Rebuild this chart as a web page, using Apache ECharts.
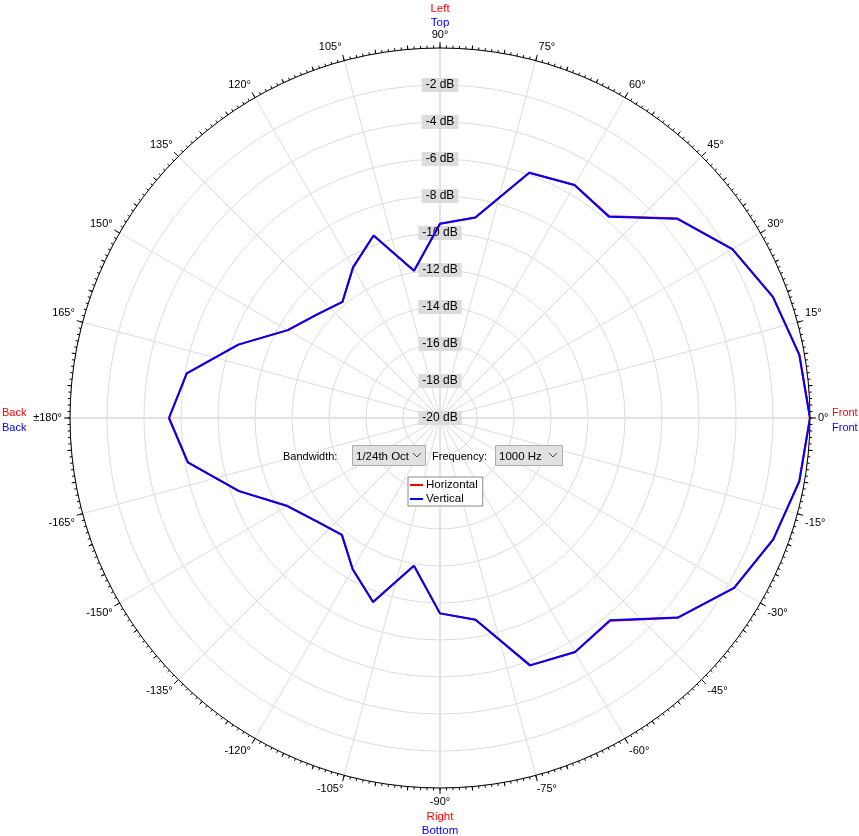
<!DOCTYPE html>
<html>
<head>
<meta charset="utf-8">
<script src="https://cdn.jsdelivr.net/npm/echarts@6/dist/echarts.min.js"></script>
<style>html,body{margin:0;padding:0;background:#fff;}#c{width:859px;height:836px;}</style>
</head>
<body>
<div id="c"></div>
<script>
// Angles (degrees) of the measured points
const angles = [-180,-170,-160,-150,-140,-130,-120,-110,-100,-90,-80,-70,-60,-50,-40,-30,-20,-10,0,10,20,30,40,50,60,70,80,90,100,110,120,130,140,150,160,170,180];
// Vertical response (dB)
const verticalDb = [-5.35,-6.16,-8.44,-10.48,-11.3,-11.75,-10.56,-9.42,-11.89,-9.44,-8.93,-5.77,-5.39,-5.72,-3.22,-1.64,-0.83,-0.28,0,-0.28,-0.85,-1.75,-3.25,-5.8,-5.46,-5.89,-9.0,-9.5,-11.92,-9.5,-10.6,-11.8,-11.3,-10.5,-8.4,-6.1,-5.35];
// Horizontal response (dB)
const horizontalDb = [-5.35,-6.16,-8.44,-10.48,-11.3,-11.75,-10.56,-9.42,-11.89,-9.44,-8.93,-5.77,-5.39,-5.69,-3.21,-1.64,-0.83,-0.28,0,-0.28,-0.85,-1.75,-3.23,-5.77,-5.46,-5.89,-9.0,-9.5,-11.92,-9.5,-10.6,-11.8,-11.3,-10.5,-8.4,-6.1,-5.35];
const seriesNames = ['Horizontal','Vertical'];
const rMin = -20, rMax = 0, rStep = 2;

const FONT = 'Liberation Sans';
const chart = echarts.init(document.getElementById('c'));
const CENTER = [440, 418];
const RADIUS = 370;

function angleLabel(v){
  if (v === 180) return '';
  if (v === -180) return '{c|±180°}';
  const t = v + '°';
  if (v === 75 || v === -75) return '{r|' + t + '}';
  if (v === 105 || v === -105) return '{l|' + t + '}';
  if (v === 15 || v === 165) return '{u|' + t + '}';
  if (v === -15 || v === -165) return '{d|' + t + '}';
  return '{c|' + t + '}';
}
const lblBase = {fontSize: 11, fontFamily: FONT, color: '#000'};

const option = {
  animation: false,
  textStyle: {fontFamily: FONT},
  polar: [
    {center: CENTER, radius: RADIUS},
    {center: CENTER, radius: RADIUS},
    {center: CENTER, radius: RADIUS}
  ],
  angleAxis: [
    {
      polarIndex: 0, type: 'value', min: -180, max: 180, interval: 15,
      startAngle: 180, clockwise: false,
      axisLine: {show: true, lineStyle: {color: '#000', width: 1}},
      axisTick: {show: true, inside: false, length: 6, lineStyle: {color: '#000'}},
      minorTick: {show: true, splitNumber: 3, length: 4, lineStyle: {color: '#000'}},
      splitLine: {show: true, lineStyle: {color: '#dcdcdc', width: 1}},
      axisLabel: {
        show: true, margin: 8, color: '#000', fontSize: 11, fontFamily: FONT, formatter: angleLabel,
        rich: {
          c: Object.assign({}, lblBase),
          r: Object.assign({padding: [0, 0, 0, 18]}, lblBase),
          l: Object.assign({padding: [0, 24, 0, 0]}, lblBase),
          u: Object.assign({padding: [0, 0, 14, 0]}, lblBase),
          d: Object.assign({padding: [14, 0, 0, 0]}, lblBase)
        }
      }
    },
    {
      polarIndex: 1, type: 'value', min: -180, max: 180, interval: 15,
      startAngle: 180, clockwise: false,
      axisLine: {show: false},
      axisTick: {show: true, inside: false, length: 2.5, lineStyle: {color: '#000'}},
      minorTick: {show: true, splitNumber: 15, length: 2.5, lineStyle: {color: '#000'}},
      splitLine: {show: false},
      axisLabel: {show: false}
    },
    {
      polarIndex: 2, type: 'value', min: 0, max: 360, interval: 90,
      startAngle: 90, clockwise: false,
      axisLine: {show: false}, axisTick: {show: false}, axisLabel: {show: false},
      splitLine: {show: true, lineStyle: {color: '#e2e2e2', width: 2}}
    }
  ],
  radiusAxis: [
    {
      polarIndex: 0, type: 'value', min: rMin, max: rMax, interval: rStep,
      axisLine: {show: false}, axisTick: {show: false}, axisLabel: {show: false},
      splitLine: {show: true, lineStyle: {color: '#dcdcdc', width: 1}}
    },
    {
      polarIndex: 1, type: 'value', min: rMin, max: rMax, interval: rStep,
      axisLine: {show: false}, axisTick: {show: false}, axisLabel: {show: false}, splitLine: {show: false}
    },
    {
      polarIndex: 2, type: 'value', min: rMin, max: rMax, interval: rStep,
      axisLine: {show: false}, axisTick: {show: false}, splitLine: {show: false},
      axisLabel: {
        show: true, showMaxLabel: false, margin: 0, rotate: 0,
        align: 'center', verticalAlign: 'middle',
        color: '#000', fontSize: 12, fontFamily: FONT,
        backgroundColor: '#dcdcdc', padding: [2, 4, 0, 4],
        formatter: function(v){ return v === 0 ? '' : v + ' dB'; }
      }
    }
  ],
  legend: {
    data: seriesNames, orient: 'vertical', left: 408, top: 477,
    icon: 'rect', itemWidth: 13, itemHeight: 2, itemGap: 2,
    padding: [2, 5, 1, 2], borderColor: '#8a8a8a', borderWidth: 1, backgroundColor: '#fff',
    textStyle: {fontSize: 11.5, color: '#000', fontFamily: FONT, padding: [0,0,0,-2]},
    selectedMode: false
  },
  graphic: [
    {type: 'text', style: {x: 440, y: 9, text: 'Left', fill: '#ff0000', font: '11.5px ' + FONT, align: 'center', verticalAlign: 'middle'}},
    {type: 'text', style: {x: 440, y: 23, text: 'Top', fill: '#0000ff', font: '11.5px ' + FONT, align: 'center', verticalAlign: 'middle'}},
    {type: 'text', style: {x: 832, y: 413, text: 'Front', fill: '#ff0000', font: '11px ' + FONT, verticalAlign: 'middle'}},
    {type: 'text', style: {x: 832, y: 428, text: 'Front', fill: '#0000ff', font: '11px ' + FONT, verticalAlign: 'middle'}},
    {type: 'text', style: {x: 2, y: 413, text: 'Back', fill: '#ff0000', font: '11px ' + FONT, verticalAlign: 'middle'}},
    {type: 'text', style: {x: 2, y: 428, text: 'Back', fill: '#0000ff', font: '11px ' + FONT, verticalAlign: 'middle'}},
    {type: 'text', style: {x: 440, y: 817, text: 'Right', fill: '#ff0000', font: '11.5px ' + FONT, align: 'center', verticalAlign: 'middle'}},
    {type: 'text', style: {x: 440, y: 831, text: 'Bottom', fill: '#0000ff', font: '11.5px ' + FONT, align: 'center', verticalAlign: 'middle'}},
    {type: 'text', z: 100, style: {x: 283, y: 457, text: 'Bandwidth:', fill: '#000', font: '11px ' + FONT, verticalAlign: 'middle'}},
    {type: 'rect', z: 100, shape: {x: 352.5, y: 445.5, width: 73, height: 20}, style: {fill: '#e1e1e1', stroke: '#adadad', lineWidth: 1}},
    {type: 'text', z: 101, style: {x: 356, y: 457, text: '1/24th Oct', fill: '#000', font: '11.5px ' + FONT, verticalAlign: 'middle'}},
    {type: 'rect', z: 101, shape: {x: 410, y: 447, width: 15, height: 18}, style: {fill: '#e1e1e1'}},
    {type: 'polyline', z: 102, shape: {points: [[413, 453], [417, 457], [421, 453]]}, style: {stroke: '#444', lineWidth: 1, fill: null}},
    {type: 'text', z: 100, style: {x: 432, y: 457, text: 'Frequency:', fill: '#000', font: '11px ' + FONT, verticalAlign: 'middle'}},
    {type: 'rect', z: 100, shape: {x: 495.5, y: 445.5, width: 67, height: 20}, style: {fill: '#e1e1e1', stroke: '#adadad', lineWidth: 1}},
    {type: 'text', z: 101, style: {x: 499, y: 457, text: '1000 Hz', fill: '#000', font: '11.5px ' + FONT, verticalAlign: 'middle'}},
    {type: 'polyline', z: 102, shape: {points: [[549, 453], [553, 457], [557, 453]]}, style: {stroke: '#444', lineWidth: 1, fill: null}}
  ],
  series: [
    {
      name: seriesNames[0], type: 'line', coordinateSystem: 'polar', polarIndex: 0,
      symbol: 'none', lineStyle: {color: '#ff0000', width: 2}, itemStyle: {color: '#ff0000'},
      data: angles.map((a, i) => [horizontalDb[i], a]), z: 3
    },
    {
      name: seriesNames[1], type: 'line', coordinateSystem: 'polar', polarIndex: 0,
      symbol: 'none', lineStyle: {color: '#0000ff', width: 2}, itemStyle: {color: '#0000ff'},
      data: angles.map((a, i) => [verticalDb[i], a]), z: 4
    }
  ]
};
chart.setOption(option);
</script>
</body>
</html>
